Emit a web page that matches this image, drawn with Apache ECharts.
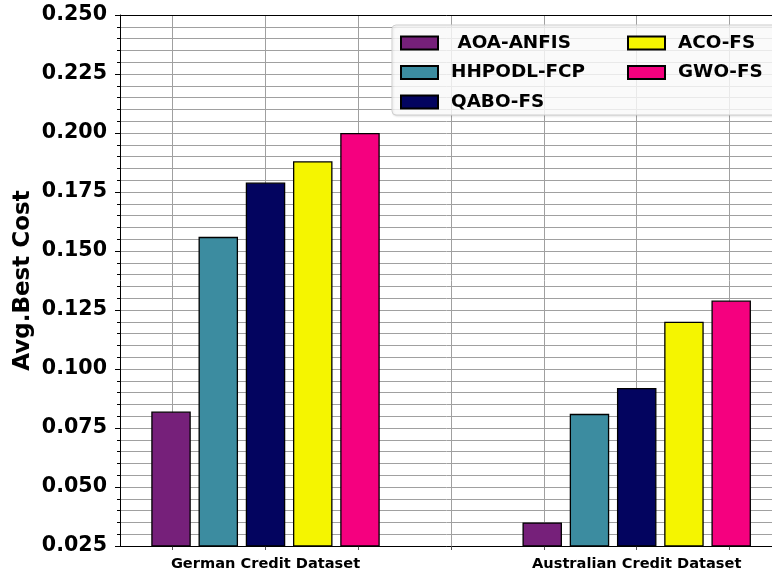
<!DOCTYPE html>
<html>
<head>
<meta charset="utf-8">
<script src="https://cdn.jsdelivr.net/npm/echarts@6/dist/echarts.min.js"></script>
<style>
  html, body { margin: 0; padding: 0; background: #fff; }
  #chart { width: 772px; height: 577px; }
</style>
</head>
<body>
<div id="chart"></div>
<script>
// Datasets (group positions 0 and 1 on the x scale)
const datasets = ['German Credit Dataset', 'Australian Credit Dataset'];
const groupPos = [0, 1];

// Methods and their average best cost per dataset
const methods = [' AOA-ANFIS', 'HHPODL-FCP', 'QABO-FS', 'ACO-FS', 'GWO-FS'];
const aoaAnfis = [0.082, 0.035];
const hhpodlFcp = [0.156, 0.081];
const qaboFs = [0.179, 0.092];
const acoFs = [0.188, 0.120];
const gwoFs = [0.200, 0.129];
const colors = ['#76207A', '#3C8CA0', '#03045F', '#F5F500', '#F5007F'];

// Axis ticks
const xTickValues = [-0.25, 0, 0.25, 0.5, 0.75, 1, 1.25];
const yMin = 0.025, yMax = 0.25, yStep = 0.025;

const values = [aoaAnfis, hhpodlFcp, qaboFs, acoFs, gwoFs];
const FONT = 'DejaVu Sans';
const GRID_COLOR = '#a0a0a0';

const series = methods.map((name, i) => ({
  name: name,
  type: 'bar',
  barWidth: 39.5,
  barGap: '19.6%',
  clip: true,
  itemStyle: { color: colors[i], borderColor: '#000', borderWidth: 1.3 },
  data: groupPos.map((x, j) => [x, values[i][j]])
}));

// plot area runs past the right edge of the canvas
const PX_PER_UNIT = 371.2;
const GRID_LEFT = 120, GRID_TOP = 15, GRID_WIDTH = 700;
const X_MIN = -0.392;
const X_MAX = X_MIN + GRID_WIDTH / PX_PER_UNIT;

const legendText = { fontFamily: FONT, fontWeight: 'bold', fontSize: 18.4, color: '#000', padding: [0, 0, 0, 8], lineHeight: 17 };

const chart = echarts.init(document.getElementById('chart'), null, { renderer: 'canvas' });
chart.setOption({
  animation: false,
  backgroundColor: '#fff',
  grid: {
    left: GRID_LEFT, top: GRID_TOP, bottom: 31, width: GRID_WIDTH,
    outerBoundsMode: 'none', containLabel: false, show: false
  },
  xAxis: {
    type: 'value',
    min: X_MIN,
    max: X_MAX,
    axisLine: { show: true, onZero: false, lineStyle: { color: '#000', width: 1 } },
    axisTick: { show: true, customValues: xTickValues, length: 4, lineStyle: { color: '#555' } },
    axisLabel: {
      customValues: groupPos,
      formatter: v => datasets[Math.round(v)] || '',
      fontFamily: FONT, fontWeight: 'bold', fontSize: 14.6, color: '#000', margin: 11
    },
    splitLine: { show: true, lineStyle: { color: GRID_COLOR, width: 1 } }
  },
  yAxis: {
    type: 'value',
    min: yMin, max: yMax, interval: yStep,
    name: 'Avg.Best Cost',
    nameLocation: 'middle',
    nameGap: 85,
    nameMoveOverlap: false,
    nameTextStyle: { fontFamily: FONT, fontWeight: 'bold', fontSize: 23, color: '#000' },
    axisLine: { show: true, onZero: false, lineStyle: { color: '#000', width: 1 } },
    axisTick: { show: true, length: 5, lineStyle: { color: '#000' } },
    minorTick: { show: true, splitNumber: 5, length: 3, lineStyle: { color: '#000' } },
    axisLabel: {
      formatter: v => v.toFixed(3),
      fontFamily: FONT, fontWeight: 'bold', fontSize: 20.6, color: '#000', margin: 13
    },
    splitLine: { show: true, lineStyle: { color: GRID_COLOR, width: 1 } },
    minorSplitLine: { show: true, lineStyle: { color: GRID_COLOR, width: 1 } }
  },
  graphic: [{
    // top spine of the plot frame
    type: 'line',
    z: 40,
    shape: { x1: GRID_LEFT, y1: GRID_TOP + 0.5, x2: GRID_LEFT + GRID_WIDTH, y2: GRID_TOP + 0.5 },
    style: { stroke: '#000', lineWidth: 1 }
  }, {
    // legend frame
    type: 'rect',
    z: 50,
    shape: { x: 392, y: 25, width: 400, height: 90, r: 4 },
    style: { fill: 'rgba(255,255,255,0.8)', stroke: '#d0d0d0', lineWidth: 1,
             shadowColor: 'rgba(0,0,0,0.12)', shadowBlur: 2, shadowOffsetX: 1, shadowOffsetY: 1 }
  }],
  legend: [
    {
      data: methods.slice(0, 3),
      orient: 'vertical', left: 395, top: 29, z: 60,
      icon: 'rect', itemWidth: 37, itemHeight: 13, itemGap: 11.5,
      textStyle: legendText
    },
    {
      data: methods.slice(3),
      orient: 'vertical', left: 622, top: 29, z: 60,
      icon: 'rect', itemWidth: 37, itemHeight: 13, itemGap: 11.5,
      textStyle: legendText
    }
  ],
  series: series
});
</script>
</body>
</html>
